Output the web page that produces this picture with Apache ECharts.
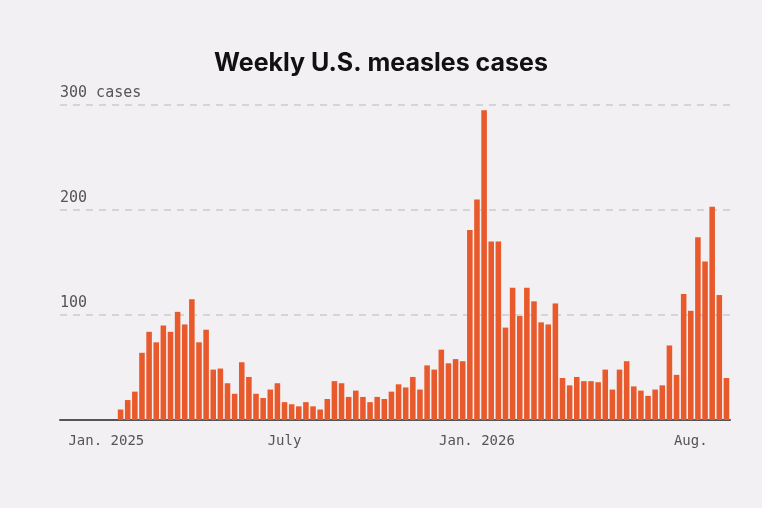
<!DOCTYPE html><html><head><meta charset="utf-8">
<script src="https://cdn.jsdelivr.net/npm/echarts@6/dist/echarts.min.js"></script>
<style>html,body{margin:0;background:#f3f0f3}#c{width:762px;height:508px}</style></head><body><div id="c"></div>
<script>
const leading = [null,null,null,null,null,null,0,0];
const cases = [10,19,27,64,84,74,90,84,103,91,115,74,86,48,49,35,25,55,41,25,21,29,35,17,15,13,17,13,10,20,37,35,22,28,22,17,22,20,27,34,31,41,29,52,48,67,54,58,56,181,210,295,170,170,88,126,99,126,113,93,91,111,40,33,41,37,37,36,48,29,48,56,32,28,23,29,33,71,43,120,104,174,151,203,119,40];
const tickLabels = {6:'Jan. 2025',31:'July',58:'Jan. 2026',88:'Aug.'};
const values = leading.concat(cases);
const cats = values.map((v,i)=>'w'+i);
const chart = echarts.init(document.getElementById('c'));
chart.setOption({
  backgroundColor:'#f3f0f3',
  title:{text:'Weekly U.S. measles cases',left:'center',top:46,textStyle:{fontFamily:'Inter',fontWeight:'bold',fontSize:25,color:'#111'}},
  grid:{left:60,right:32,top:105,bottom:88},
  xAxis:{type:'category',data:cats,boundaryGap:true,
    axisLine:{lineStyle:{color:'#555',width:2}},
    axisTick:{interval:(i)=>tickLabels[i]!==undefined,length:6,lineStyle:{color:'#555',width:1.5}},
    axisLabel:{interval:(i)=>tickLabels[i]!==undefined,formatter:(v,i)=>tickLabels[i]||'',fontFamily:'DejaVu Sans Mono',fontSize:14,color:'#555',margin:14}},
  yAxis:{type:'value',min:0,max:300,interval:100,
    axisLabel:{inside:true,verticalAlign:'bottom',align:'left',margin:0,padding:[0,0,4,0],fontFamily:'DejaVu Sans Mono',fontSize:15,color:'#555',
      formatter:v=>v===0?'':(v===300?'300 cases':String(v))},
    splitLine:{lineStyle:{color:'#ccc',type:[7,6],width:1.5}},axisLine:{show:false},axisTick:{show:false}},
  series:[{type:'bar',data:values,barWidth:'78%',itemStyle:{color:'#e85a2b'},animation:false}]
});
</script></body></html>
